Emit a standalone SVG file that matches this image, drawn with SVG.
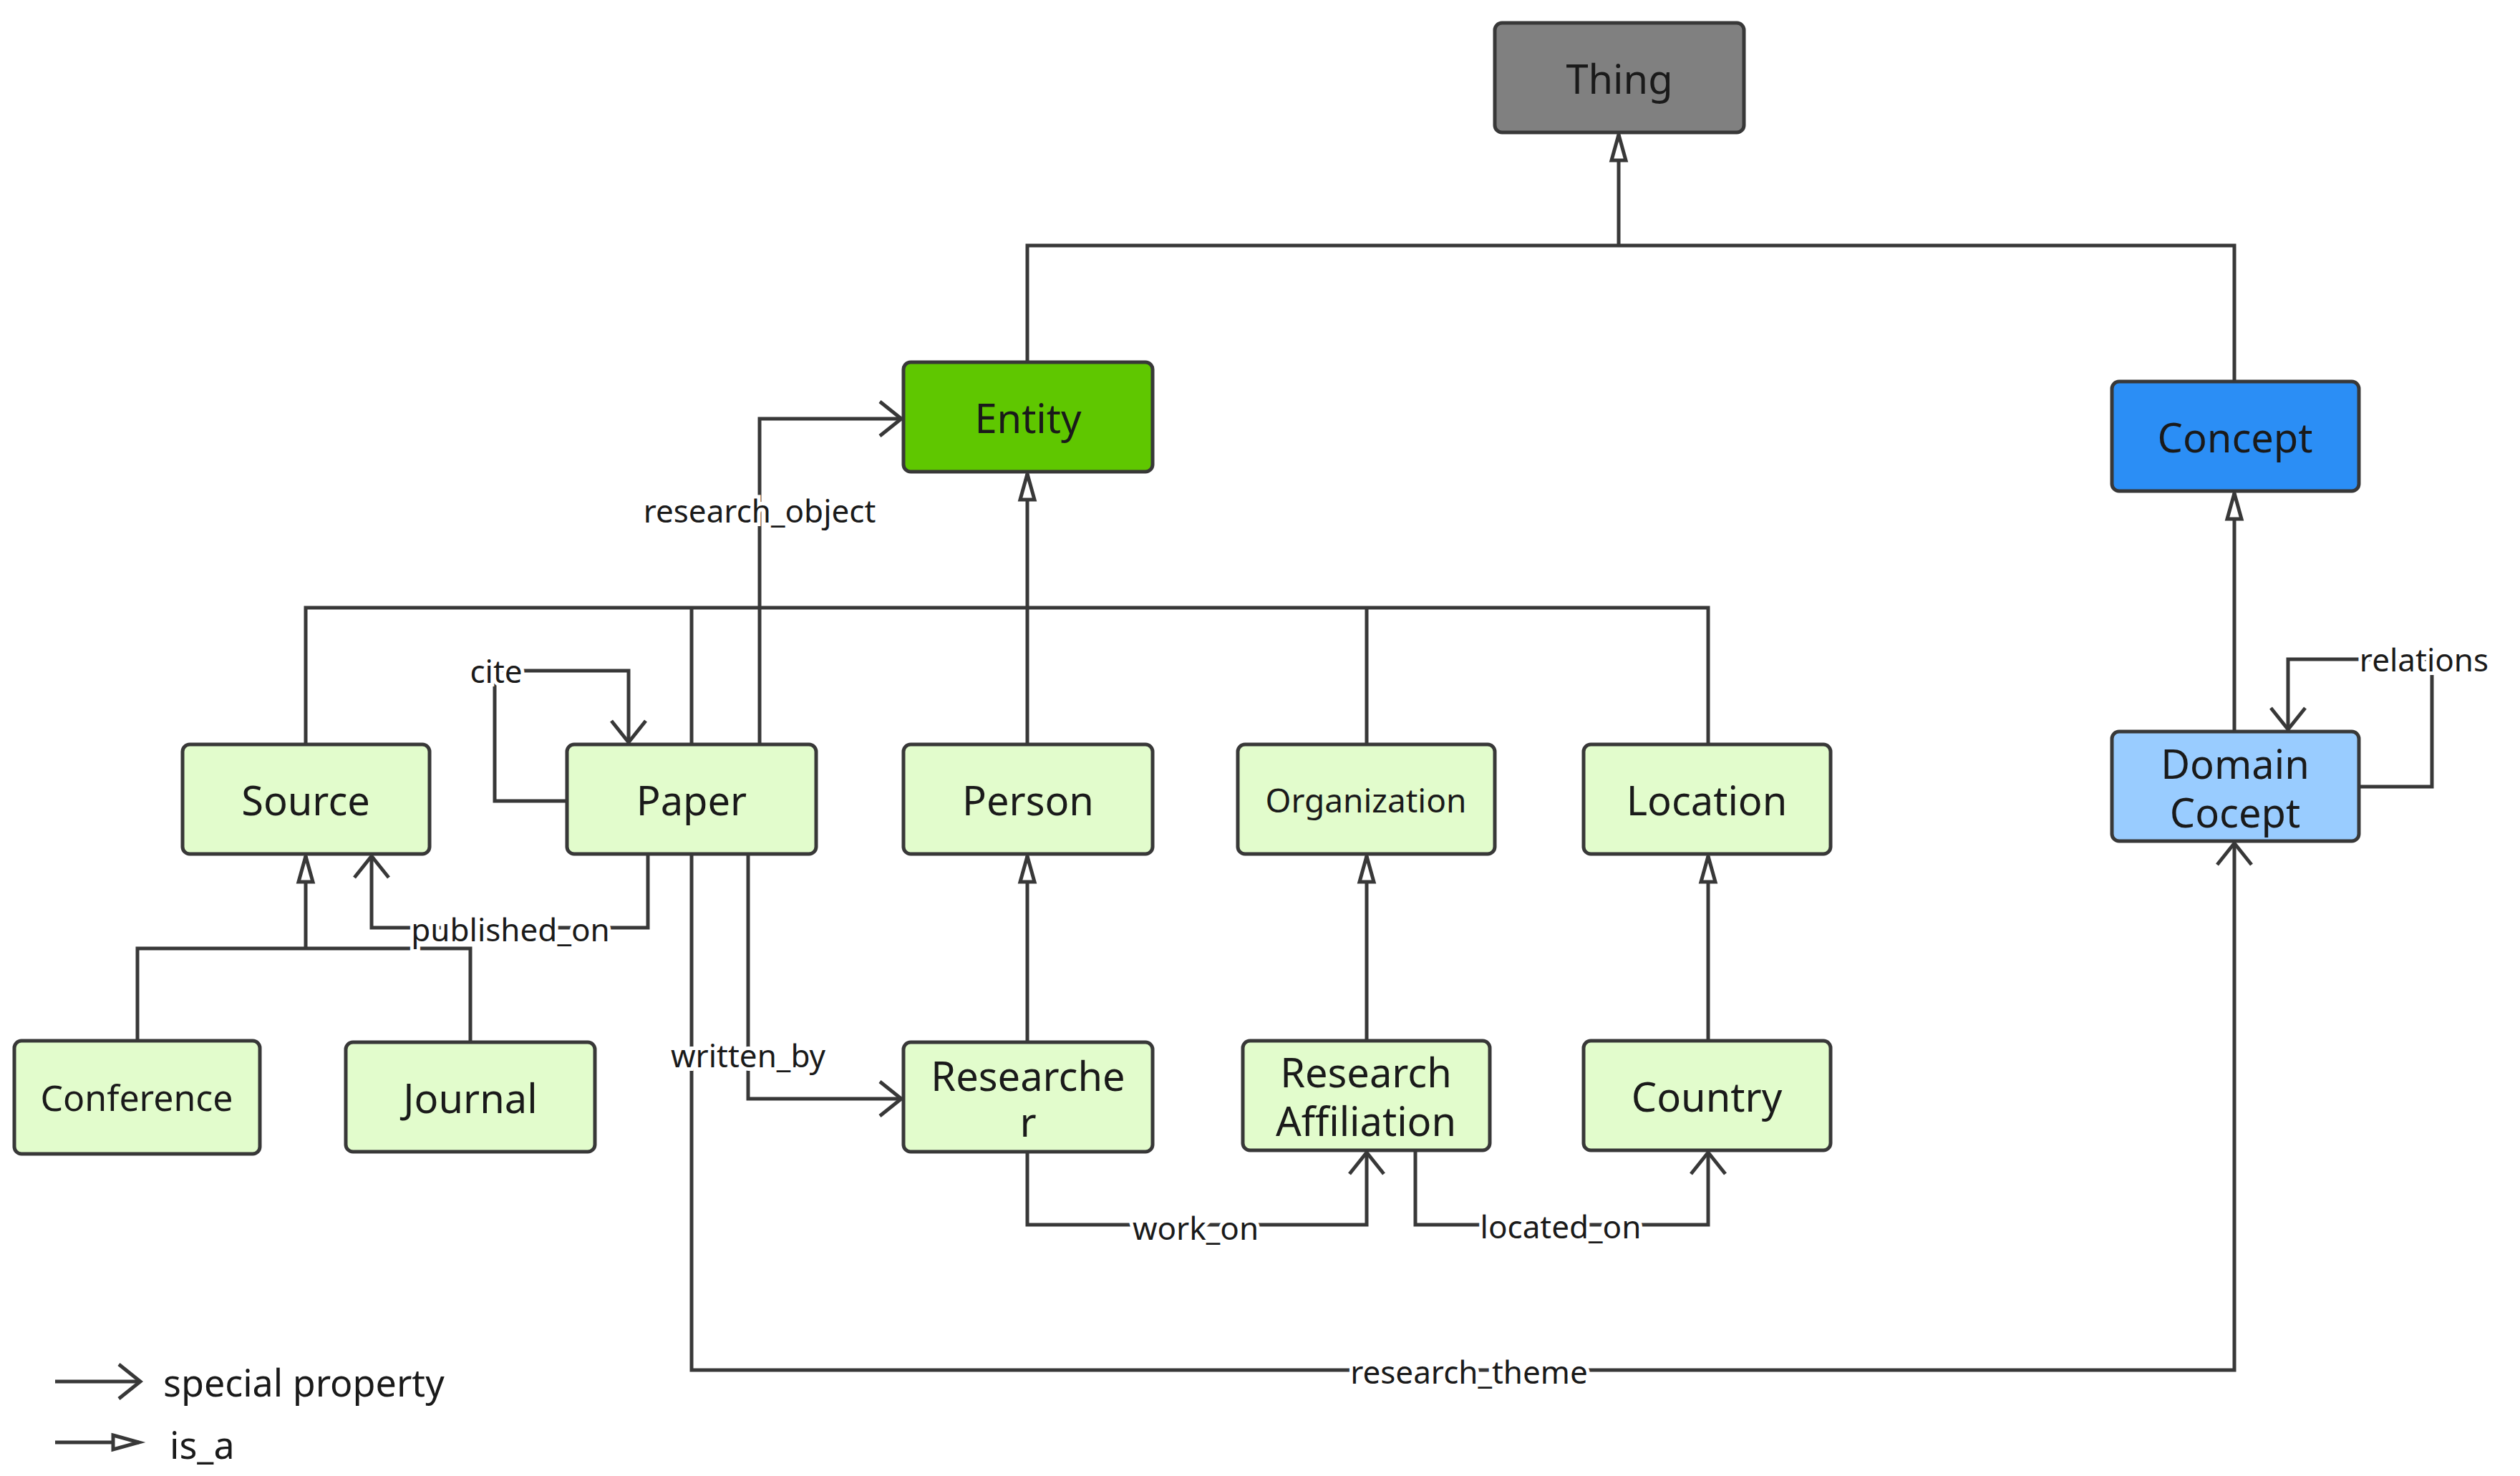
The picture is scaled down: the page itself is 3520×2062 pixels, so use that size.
<svg xmlns="http://www.w3.org/2000/svg" width="3520" height="2062" viewBox="0 0 3520 2062">
<style>
.n{stroke:#383838;stroke-width:5}
.g{fill:#e2fccc}
.t{font-family:"Noto Sans","Open Sans",sans-serif;font-size:56px;fill:#1a1a1a;text-anchor:middle;dominant-baseline:central}
.c{fill:none;stroke:#383838;stroke-width:5}
.l{font-family:"Noto Sans","Open Sans",sans-serif;font-size:44px;fill:#1a1a1a;text-anchor:middle;dominant-baseline:central;stroke:#fff;stroke-width:10;paint-order:stroke}
.sp{marker-end:url(#open)}
.isa{marker-end:url(#tri)}
</style>
<defs>
<marker id="open" markerUnits="userSpaceOnUse" viewBox="-34 -26 38 52" refX="0" refY="0" markerWidth="38" markerHeight="52" orient="auto" overflow="visible"><path d="M-30,-24 L0,0 L-30,24" fill="none" stroke="#383838" stroke-width="5"/></marker>
<marker id="tri" markerUnits="userSpaceOnUse" viewBox="-40 -14 44 28" refX="0" refY="0" markerWidth="44" markerHeight="28" orient="auto" overflow="visible"><path d="M-36,-10 L0,0 L-36,10 Z" fill="#fff" stroke="#383838" stroke-width="5"/></marker>
</defs>
<rect width="3520" height="2062" fill="#fff"/>
<g id="connectors">
<path class="c isa" d="M1435,506 V343 H3121 V533 M2261,343 V188"/>
<path class="c isa" d="M427,1040 V849 H2386 V1040 M966,1040 V849 M1435,1040 V849 M1909,1040 V849 M1435,849 V662"/>
<path class="c isa" d="M3121,1022 V689"/>
<path class="c isa" d="M1435,1456 V1196"/>
<path class="c isa" d="M1909,1454 V1196"/>
<path class="c isa" d="M2386,1454 V1196"/>
<path class="c isa" d="M192,1454 V1325 H657 V1456 M427,1325 V1196"/>
<path class="c sp" d="M1061,1040 V585 H1259"/>
<path class="c sp" d="M792,1119 H691 V937 H878 V1037"/>
<path class="c sp" d="M905,1193 V1296 H519 V1196"/>
<path class="c sp" d="M1045,1193 V1535 H1259"/>
<path class="c sp" d="M1435,1609 V1711 H1909 V1610"/>
<path class="c sp" d="M1977,1607 V1711 H2386 V1610"/>
<path class="c sp" d="M966,1193 V1914 H3121 V1178"/>
<path class="c sp" d="M3295,1099 H3397 V921 H3196 V1019"/>
<path class="c sp" d="M77,1930 H196"/>
<path class="c isa" d="M77,2015 H194"/>
<text class="l" x="1061" y="713">research_object</text>
<text class="l" x="693" y="937">cite</text>
<text class="l" x="713" y="1298">published_on</text>
<text class="l" x="1045" y="1474">written_by</text>
<text class="l" x="1670" y="1715">work_on</text>
<text class="l" x="2180" y="1713">located_on</text>
<text class="l" x="2052" y="1916">research_theme</text>
<text class="l" x="3386" y="921">relations</text>
<text class="t" x="228" y="1930" style="text-anchor:start;font-size:52px">special property</text>
<text class="t" x="237" y="2017" style="text-anchor:start;font-size:52px">is_a</text>
</g>
<g id="thing"><rect class="n" x="2088" y="32" width="348" height="153" rx="10" fill="#808080"/><text class="t" x="2262" y="109">Thing</text></g>
<g id="entity"><rect class="n" x="1262" y="506" width="348" height="153" rx="10" fill="#5fc700"/><text class="t" x="1436" y="583">Entity</text></g>
<g id="concept"><rect class="n" x="2950" y="533" width="345" height="153" rx="10" fill="#2b8ef5"/><text class="t" x="3122" y="610">Concept</text></g>
<g id="domain"><rect class="n" x="2950" y="1022" width="345" height="153" rx="10" fill="#99ccff"/><text class="t" x="3122" y="1066">Domain</text><text class="t" x="3122" y="1134">Cocept</text></g>
<g id="source"><rect class="n g" x="255" y="1040" width="345" height="153" rx="10"/><text class="t" x="427" y="1117">Source</text></g>
<g id="paper"><rect class="n g" x="792" y="1040" width="348" height="153" rx="10"/><text class="t" x="966" y="1117">Paper</text></g>
<g id="person"><rect class="n g" x="1262" y="1040" width="348" height="153" rx="10"/><text class="t" x="1436" y="1117">Person</text></g>
<g id="organization"><rect class="n g" x="1729" y="1040" width="359" height="153" rx="10"/><text class="t" x="1908" y="1117" style="font-size:46px">Organization</text></g>
<g id="location"><rect class="n g" x="2212" y="1040" width="345" height="153" rx="10"/><text class="t" x="2384" y="1117">Location</text></g>
<g id="conference"><rect class="n g" x="20" y="1454" width="343" height="158" rx="10"/><text class="t" x="191" y="1533" style="font-size:50px">Conference</text></g>
<g id="journal"><rect class="n g" x="483" y="1456" width="348" height="153" rx="10"/><text class="t" x="657" y="1533">Journal</text></g>
<g id="researcher"><rect class="n g" x="1262" y="1456" width="348" height="153" rx="10"/><text class="t" x="1436" y="1502">Researche</text><text class="t" x="1436" y="1566">r</text></g>
<g id="affiliation"><rect class="n g" x="1736" y="1454" width="345" height="153" rx="10"/><text class="t" x="1908" y="1497">Research</text><text class="t" x="1908" y="1565">Affiliation</text></g>
<g id="country"><rect class="n g" x="2212" y="1454" width="345" height="153" rx="10"/><text class="t" x="2384" y="1531">Country</text></g>
</svg>
